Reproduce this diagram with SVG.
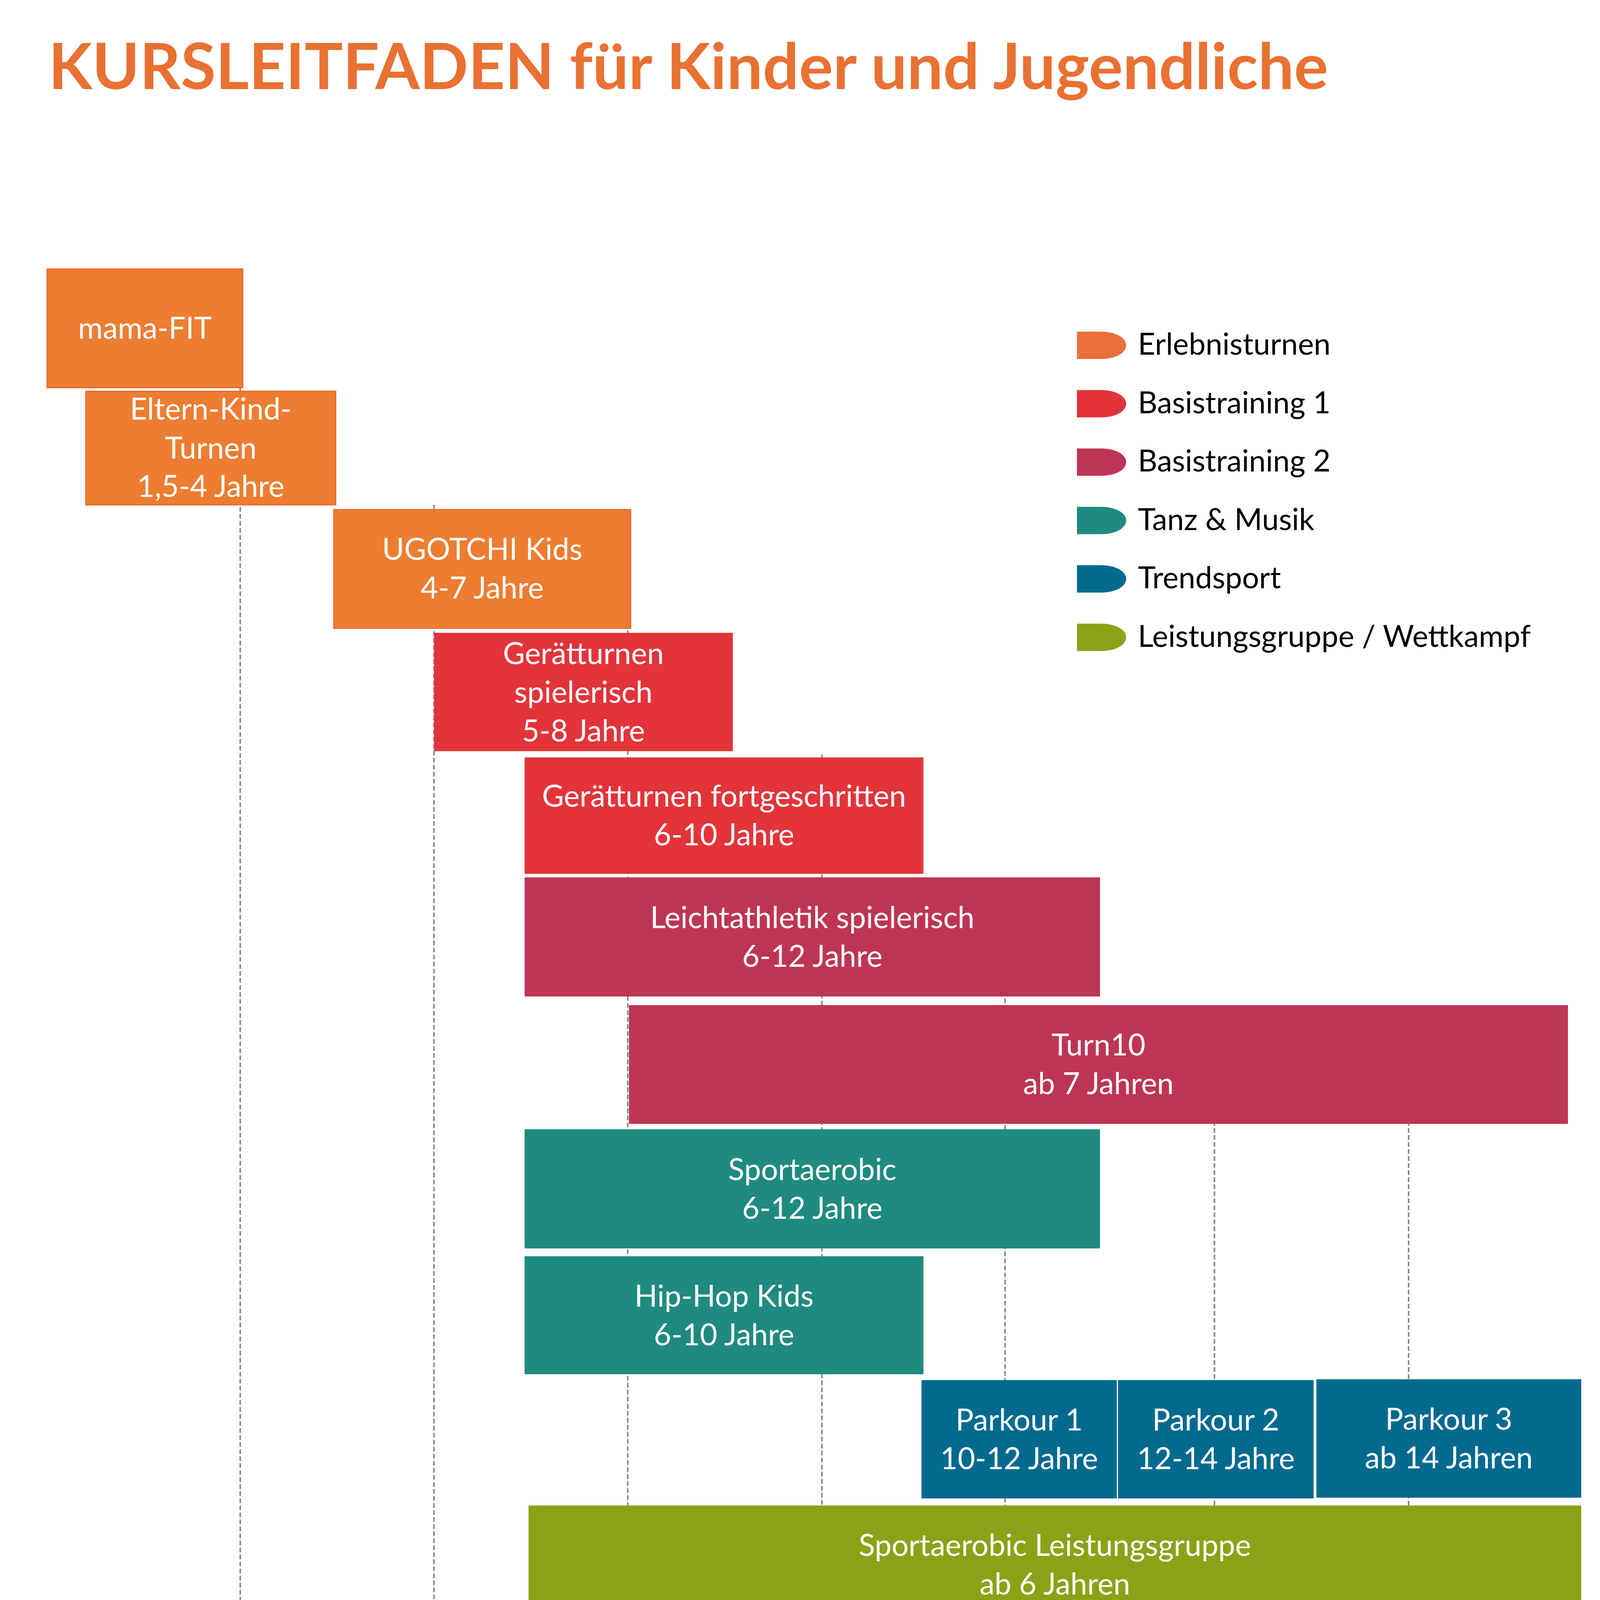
<svg xmlns="http://www.w3.org/2000/svg" width="4102" height="5071" viewBox="0 0 4102 5071">
<style>
.t{font-family:Lato,"Open Sans","Liberation Sans",sans-serif;font-size:77px;fill:#ffffff;text-anchor:middle}
.lg{font-family:Lato,"Open Sans","Liberation Sans",sans-serif;font-size:77px;fill:#000000}
.ax{font-family:Lato,"Open Sans","Liberation Sans",sans-serif;font-size:76px;fill:#000000;text-anchor:middle}
.grid{stroke:#8a8a8a;stroke-width:4;stroke-dasharray:12 6;fill:none}
.or{fill:#ED7D31;stroke:#E97132;stroke-width:4}
.rd{fill:#E3343A}
.cr{fill:#BE3553}
.tl{fill:#1F8A80}
.bl{fill:#036A8F}
.ol{fill:#8BA216}
</style>
<rect x="0" y="0" width="4102" height="5071" fill="#ffffff"/>
<text id="title" x="124" y="228" font-family="Lato,'Open Sans','Liberation Sans',sans-serif" font-weight="700" font-size="162" fill="#E97132" textLength="3276" lengthAdjust="spacingAndGlyphs">KURSLEITFADEN für Kinder und Jugendliche</text>

<g id="gridlines">
<line class="grid" x1="615" y1="992" x2="615" y2="4917"/>
<line class="grid" x1="1111" y1="1292" x2="1111" y2="4917"/>
<line class="grid" x1="1607" y1="1560" x2="1607" y2="4917"/>
<line class="grid" x1="2104" y1="1932" x2="2104" y2="4917"/>
<line class="grid" x1="2573" y1="2250" x2="2573" y2="4917"/>
<line class="grid" x1="3109" y1="2600" x2="3109" y2="4917"/>
<line class="grid" x1="3606" y1="2600" x2="3606" y2="4917"/>
</g>

<g id="axis">
<text class="ax" x="615" y="4998">3 Jahre</text>
<text class="ax" x="1111" y="4998">5 Jahre</text>
<text class="ax" x="1607" y="4998">7 Jahre</text>
<text class="ax" x="2104" y="4998">9 Jahre</text>
<text class="ax" x="2573" y="4998">11 Jahre</text>
<text class="ax" x="3109" y="4998">13 Jahre</text>
<text class="ax" x="3606" y="4998">15 Jahre</text>
</g>

<g id="mama-fit">
<rect class="or" x="121" y="689" width="500" height="303"/>
<text class="t" x="371" y="867">mama-FIT</text>
</g>
<g id="eltern-kind">
<rect class="or" x="220" y="1002" width="639" height="290"/>
<text class="t" x="539.5" y="1074">Eltern-Kind-</text>
<text class="t" x="539.5" y="1174">Turnen</text>
<text class="t" x="539.5" y="1272">1,5-4 Jahre</text>
</g>
<g id="ugotchi">
<rect class="or" x="855" y="1305" width="759" height="303"/>
<text class="t" x="1234.5" y="1433">UGOTCHI Kids</text>
<text class="t" x="1234.5" y="1532">4-7 Jahre</text>
</g>
<g id="geraet-spielerisch">
<rect class="rd" x="1111" y="1620" width="765" height="303"/>
<text class="t" x="1493.5" y="1700">Gerätturnen</text>
<text class="t" x="1493.5" y="1799">spielerisch</text>
<text class="t" x="1493.5" y="1898">5-8 Jahre</text>
</g>
<g id="geraet-fortgeschritten">
<rect class="rd" x="1343" y="1939" width="1021" height="298"/>
<text class="t" x="1853.5" y="2065">Gerätturnen fortgeschritten</text>
<text class="t" x="1853.5" y="2164">6-10 Jahre</text>
</g>
<g id="la-spielerisch">
<rect class="cr" x="1343" y="2246" width="1473" height="305"/>
<text class="t" x="2079.5" y="2376">Leichtathletik spielerisch</text>
<text class="t" x="2079.5" y="2475">6-12 Jahre</text>
</g>
<g id="turn10-basis">
<rect class="cr" x="1610" y="2573" width="2404" height="304"/>
<text class="t" x="2812" y="2702">Turn10</text>
<text class="t" x="2812" y="2801">ab 7 Jahren</text>
</g>
<g id="sportaerobic">
<rect class="tl" x="1343" y="2891" width="1473" height="305"/>
<text class="t" x="2079.5" y="3021">Sportaerobic</text>
<text class="t" x="2079.5" y="3120">6-12 Jahre</text>
</g>
<g id="hiphop">
<rect class="tl" x="1343" y="3216" width="1021" height="302"/>
<text class="t" x="1853.5" y="3345">Hip-Hop Kids</text>
<text class="t" x="1853.5" y="3444">6-10 Jahre</text>
</g>
<g id="parkour1">
<rect class="bl" x="2359" y="3533" width="500" height="303"/>
<text class="t" x="2609" y="3662">Parkour 1</text>
<text class="t" x="2609" y="3761">10-12 Jahre</text>
</g>
<g id="parkour2">
<rect class="bl" x="2862" y="3533" width="501" height="303"/>
<text class="t" x="3112.5" y="3662">Parkour 2</text>
<text class="t" x="3112.5" y="3761">12-14 Jahre</text>
</g>
<g id="parkour3">
<rect class="bl" x="3370" y="3531" width="678" height="303"/>
<text class="t" x="3709" y="3660">Parkour 3</text>
<text class="t" x="3709" y="3759">ab 14 Jahren</text>
</g>
<g id="sportaerobic-lg">
<rect class="ol" x="1353" y="3854" width="2695" height="303"/>
<text class="t" x="2700.5" y="3983">Sportaerobic Leistungsgruppe</text>
<text class="t" x="2700.5" y="4082">ab 6 Jahren</text>
</g>
<g id="turn10-lg">
<rect class="ol" x="1603" y="4175" width="2445" height="278"/>
<text class="t" x="2825.5" y="4291">Turn10</text>
<text class="t" x="2825.5" y="4390">ab 7 Jahren</text>
</g>
<g id="la-lg">
<rect class="ol" x="2359" y="4469" width="1016" height="303"/>
<text class="t" x="2867" y="4548">Leichtathletik</text>
<text class="t" x="2867" y="4647">Leistungsgruppe</text>
<text class="t" x="2867" y="4746">10-14 Jahre</text>
</g>

<g id="legend">
<g id="legend-erlebnis"><path d="M2757,849 h64 a62,35 0 0 1 0,70 h-64 z" fill="#E97139"/><text class="lg" x="2913" y="908">Erlebnisturnen</text></g>
<g id="legend-basis1"><path d="M2757,998.5 h64 a62,35 0 0 1 0,70 h-64 z" fill="#E3343A"/><text class="lg" x="2913" y="1057.5">Basistraining 1</text></g>
<g id="legend-basis2"><path d="M2757,1148 h64 a62,35 0 0 1 0,70 h-64 z" fill="#BE3553"/><text class="lg" x="2913" y="1207">Basistraining 2</text></g>
<g id="legend-tanz"><path d="M2757,1297.5 h64 a62,35 0 0 1 0,70 h-64 z" fill="#1F8A80"/><text class="lg" x="2913" y="1356.5">Tanz &amp; Musik</text></g>
<g id="legend-trend"><path d="M2757,1447 h64 a62,35 0 0 1 0,70 h-64 z" fill="#036A8F"/><text class="lg" x="2913" y="1506">Trendsport</text></g>
<g id="legend-leistung"><path d="M2757,1596.5 h64 a62,35 0 0 1 0,70 h-64 z" fill="#8BA216"/><text class="lg" x="2913" y="1655.5">Leistungsgruppe / Wettkampf</text></g>
</g>
</svg>
